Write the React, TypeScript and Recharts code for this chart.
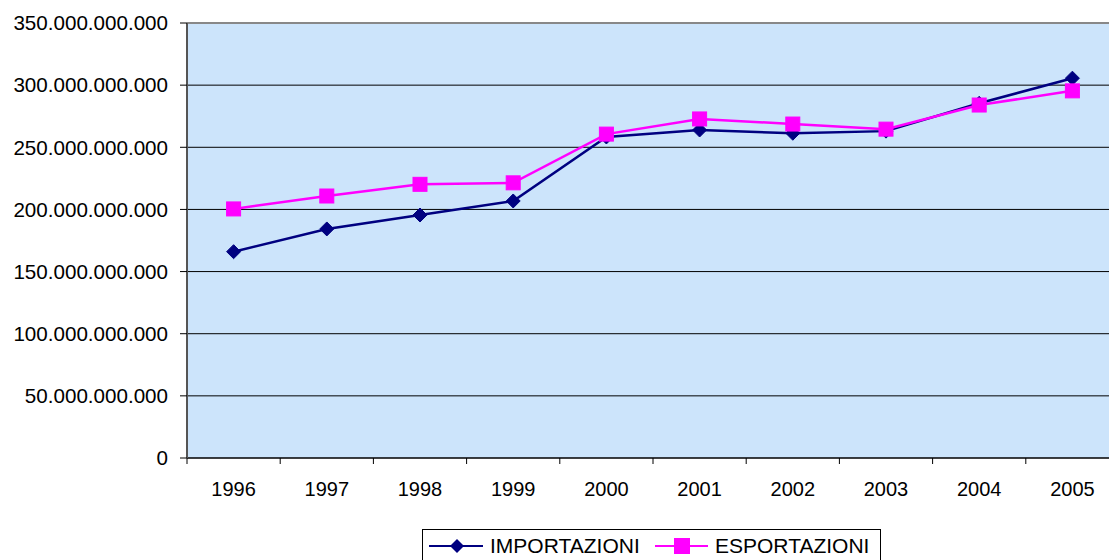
import React from "react";
import {
  LineChart,
  Line,
  XAxis,
  YAxis,
  CartesianGrid,
  ReferenceLine,
} from "recharts";

const years = ["1996", "1997", "1998", "1999", "2000", "2001", "2002", "2003", "2004", "2005"];
const importazioni = [166.0, 184.3, 195.5, 206.8, 258.3, 263.9, 261.3, 263.0, 285.4, 305.6];
const esportazioni = [200.4, 210.8, 220.2, 221.4, 260.6, 272.8, 268.7, 264.6, 284.0, 295.4];
const yTicks = [0, 50, 100, 150, 200, 250, 300, 350];
const seriesNames = ["IMPORTAZIONI", "ESPORTAZIONI"];

const BILLION = 1e9;
const data = years.map((year, i) => ({
  year,
  imp: importazioni[i] * BILLION,
  exp: esportazioni[i] * BILLION,
}));

const FONT = "'Liberation Sans', Arial, sans-serif";
const CHART_W = 1119;
const CHART_H = 560;
const MARGIN = { top: 23, right: 0, bottom: 62, left: 0 };
const Y_AXIS_W = 187;
const BAND = (CHART_W - MARGIN.left - MARGIN.right - Y_AXIS_W) / years.length;

const fmt = (v: number) => String(Math.round(v)).replace(/\B(?=(\d{3})+(?!\d))/g, ".");

const YearTick = (props: any) => {
  const { x, y, payload } = props;
  return (
    <g>
      <line x1={x - BAND / 2} x2={x - BAND / 2} y1={y} y2={y + 6} stroke="#000" />
      <text x={x} y={y + 38} textAnchor="middle" fontSize={20} fontFamily={FONT} fill="#000">
        {payload.value}
      </text>
    </g>
  );
};

const Diamond = (props: any) => {
  const { cx, cy } = props;
  if (cx == null || cy == null) return null;
  const r = 7;
  return (
    <path
      d={`M${cx},${cy - r}L${cx + r},${cy}L${cx},${cy + r}L${cx - r},${cy}Z`}
      fill="#000080"
      stroke="#000080"
    />
  );
};

const Square = (props: any) => {
  const { cx, cy } = props;
  if (cx == null || cy == null) return null;
  const s = 7;
  return <rect x={cx - s} y={cy - s} width={s * 2} height={s * 2} fill="#FF00FF" stroke="#FF00FF" />;
};

// legend drawn as a small svg under the chart
const LegendBox = () => (
  <svg
    width={460}
    height={32}
    style={{ position: "absolute", left: 422, top: 529 }}
  >
    <rect x={0.5} y={0.5} width={458} height={40} fill="#fff" stroke="#000" />
    <line x1={7} x2={61} y1={17} y2={17} stroke="#000080" strokeWidth={2} />
    <path d="M35,10L42,17L35,24L28,17Z" fill="#000080" />
    <text x={68} y={24} fontSize={21} fontFamily={FONT} fill="#000">
      {seriesNames[0]}
    </text>
    <line x1={233} x2={286} y1={17} y2={17} stroke="#FF00FF" strokeWidth={2} />
    <rect x={252} y={9} width={16} height={16} fill="#FF00FF" />
    <text x={293} y={24} fontSize={21} fontFamily={FONT} fill="#000">
      {seriesNames[1]}
    </text>
  </svg>
);

export default function App() {
  return (
    <div
      style={{
        position: "fixed",
        left: 0,
        top: 0,
        width: 1109,
        height: 560,
        overflow: "hidden",
        background: "#fff",
      }}
    >
      <LineChart width={CHART_W} height={CHART_H} data={data} margin={MARGIN}>
        <CartesianGrid
          vertical={false}
          stroke="#000"
          strokeWidth={1}
          fill="#CCE4FB"
          fillOpacity={1}
        />
        <XAxis
          dataKey="year"
          scale="band"
          height={40}
          tickLine={false}
          tickSize={0}
          tickMargin={0}
          axisLine={{ stroke: "#000", strokeWidth: 1 }}
          tick={<YearTick />}
          interval={0}
        />
        <YAxis
          width={Y_AXIS_W}
          domain={[0, 350 * BILLION]}
          ticks={yTicks.map((t) => t * BILLION)}
          tickFormatter={fmt}
          tickSize={7}
          tickMargin={12}
          tickLine={{ stroke: "#000" }}
          axisLine={{ stroke: "#555", strokeWidth: 2 }}
          tick={{ fontSize: 20.6, fontFamily: FONT, fill: "#000" }}
          interval={0}
        />
        <ReferenceLine y={350 * BILLION} stroke="#888" strokeWidth={2} />
        <Line
          dataKey="imp"
          stroke="#000080"
          strokeWidth={2.5}
          dot={<Diamond />}
          activeDot={false}
          isAnimationActive={false}
        />
        <Line
          dataKey="exp"
          stroke="#FF00FF"
          strokeWidth={2.5}
          dot={<Square />}
          activeDot={false}
          isAnimationActive={false}
        />
      </LineChart>
      <LegendBox />
    </div>
  );
}
